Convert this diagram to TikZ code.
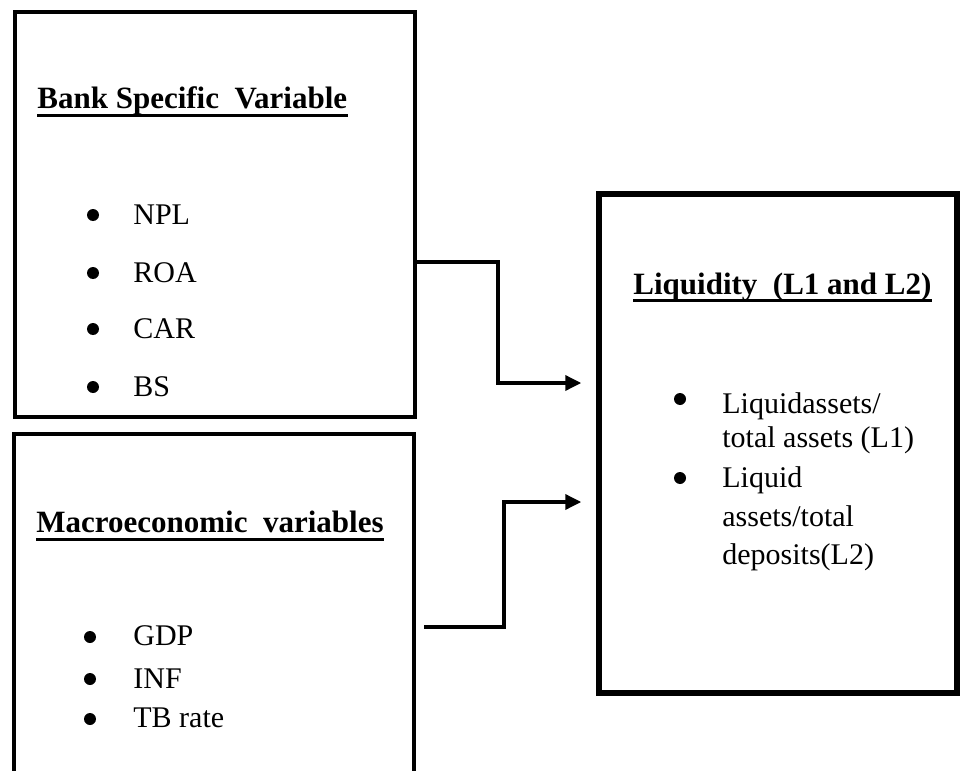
\documentclass[tikz,border=0pt]{standalone}
\usepackage{fontspec}
\setmainfont{Liberation Serif}
\usetikzlibrary{arrows.meta}
\newlength\px \setlength\px{0.5pt}
\begin{document}
\begin{tikzpicture}[x=0.5pt,y=-0.5pt,
  box/.style={draw, line width=4\px, inner sep=0},
  ttl/.style={anchor=base west, inner sep=0, font=\bfseries\fontsize{15.5}{18}\selectfont},
  itm/.style={anchor=base west, inner sep=0, font=\fontsize{15}{18}\selectfont},
  uline/.style={line width=3\px},
  conn/.style={line width=1.75pt, -{Triangle[length=8pt,width=7.5pt]}, shorten >=7.5pt},
  dot/.style={circle, fill, inner sep=0, minimum size=12\px}]
\useasboundingbox (0,0) rectangle (960,771);
\clip (0,0) rectangle (960,771);
% boxes
\node[box, minimum width=400\px, minimum height=405\px] (b1) at (215,214.5) {};
\node[box, minimum width=400\px, minimum height=466\px] (b2) at (214,667) {};
\node[box, line width=5.5\px, minimum width=358\px, minimum height=499\px] (b3) at (778,443.5) {};
% box 1
\node[ttl] (t1) at (37,108) {Bank Specific\ \ Variable};
\draw[uline] ([yshift=-7\px]t1.base west) -- ([yshift=-7\px]t1.base east);
\node[dot] (d11) at (93,215) {};
\node[itm] (i11) at (133,224) {NPL};
\node[dot] (d12) at (93,273) {};
\node[itm] (i12) at (133,282) {ROA};
\node[dot] (d13) at (93,329) {};
\node[itm] (i13) at (133,338) {CAR};
\node[dot] (d14) at (93,387) {};
\node[itm] (i14) at (133,396) {BS};
% box 2
\node[ttl] (t2) at (36,532) {Macroeconomic\ \ variables};
\draw[uline] ([yshift=-7\px]t2.base west) -- ([yshift=-7\px]t2.base east);
\node[dot] (d21) at (90,637) {};
\node[itm] (i21) at (133,645) {GDP};
\node[dot] (d22) at (90,679) {};
\node[itm] (i22) at (133,688) {INF};
\node[dot] (d23) at (90,719) {};
\node[itm] (i23) at (133,727) {TB rate};
% box 3
\node[ttl] (t3) at (633,294) {Liquidity\ \ (L1 and L2)};
\draw[uline] ([yshift=-6.5\px]t3.base west) -- ([yshift=-6.5\px]t3.base east);
\node[dot] (d31) at (680,399) {};
\node[itm] (i31) at (722,413) {Liquidassets/};
\node[itm] (i32) at (722,447) {total assets (L1)};
\node[dot] (d32) at (680,478) {};
\node[itm] (i33) at (722,487) {Liquid};
\node[itm] (i34) at (722,526) {assets/total};
\node[itm] (i35) at (722,564) {deposits(L2)};
% connectors
\coordinate (a2s) at (424,627);
\draw[conn] (b1.east |- 0,262) -- (498,262) -- (498,383) -- (b3.west |- 0,383);
\draw[conn] (a2s) -- (504,627) -- (504,502) -- (b3.west |- 0,502);
\end{tikzpicture}
\end{document}
